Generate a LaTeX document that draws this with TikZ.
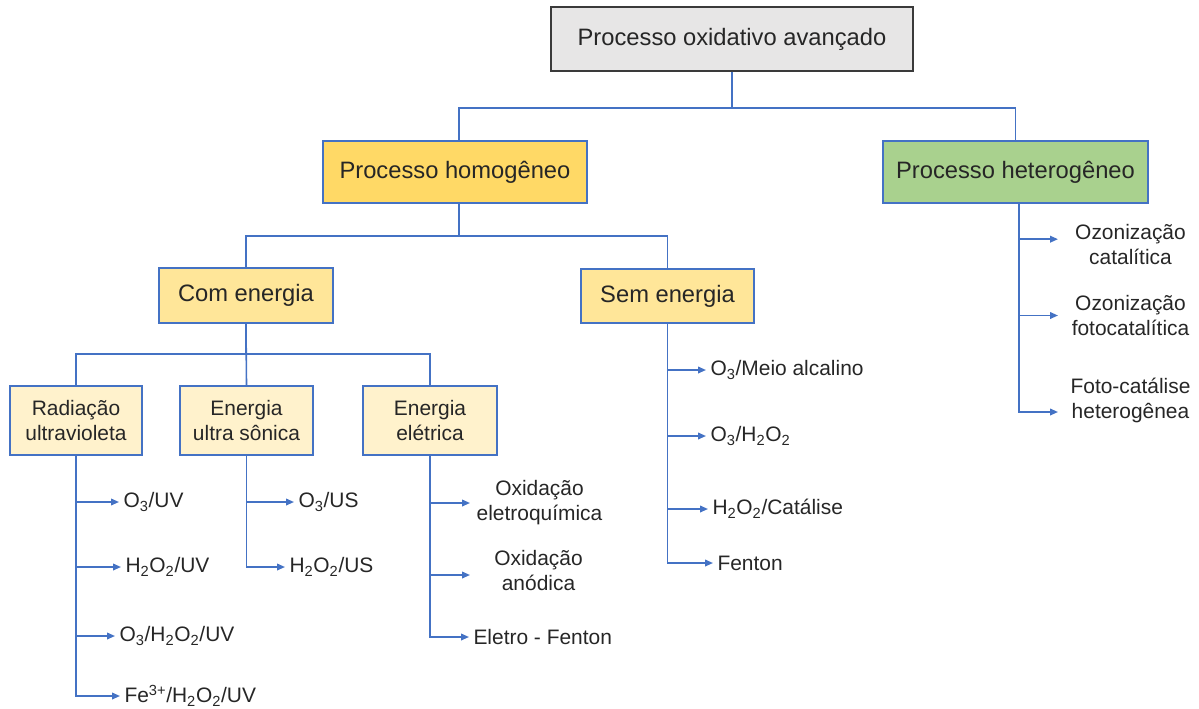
\documentclass[tikz,border=0pt]{standalone}
\usepackage{fontspec}
\setmainfont{Liberation Sans}
\usetikzlibrary{arrows.meta}

\definecolor{azul}{HTML}{4472C4}
\definecolor{cinza}{HTML}{E7E6E6}
\definecolor{cinzaesc}{HTML}{3A3A3A}
\definecolor{ouro}{HTML}{FFD966}
\definecolor{verde}{HTML}{A9D18E}
\definecolor{amarelo}{HTML}{FFE699}
\definecolor{creme}{HTML}{FFF2CC}

\tikzset{every picture/.style={line width=0.75pt}}
\tikzset{
	grande/.style={font=\fontsize{17.8}{21}\selectfont},
	pequena/.style={font=\fontsize{15.7}{18.75}\selectfont},
	caixa/.style={draw=azul, line width=1.1pt, text=black!85, align=center, inner sep=0pt},
	folha/.style={anchor=west, inner xsep=3pt, inner ysep=0pt, pequena, text=black!85},
	folhac/.style={folha, align=center, inner xsep=0pt},
	liga/.style={draw=azul, line width=1.2pt},
	seta/.style={liga, -{Triangle[length=6pt,width=5pt]}}
}

\begin{document}
\begin{tikzpicture}[x=0.75pt,y=0.75pt,yscale=-1,xscale=1]
		\useasboundingbox (0,0) rectangle (1199,708);
		
		% Caixas
		\node[caixa, draw=cinzaesc, fill=cinza, grande, minimum width=271.5pt, minimum height=48pt] (poa) at (732,39) {Processo oxidativo avançado};
		\node[caixa, fill=ouro, grande, minimum width=198pt, minimum height=46.5pt] (homog) at (455,172) {Processo homogêneo};
		\node[caixa, fill=verde, grande, minimum width=198.75pt, minimum height=46.5pt] (heter) at (1015.5,172) {Processo heterogêneo};
		\node[caixa, fill=amarelo, grande, minimum width=130.5pt, minimum height=41.25pt] (comE) at (246,295.5) {Com energia};
		\node[caixa, fill=amarelo, grande, minimum width=129.75pt, minimum height=40.5pt] (semE) at (667.5,296) {Sem energia};
		\node[caixa, fill=creme, pequena, minimum width=99pt, minimum height=51.75pt] (radUV) at (76,420.5) {Radiação\\ultravioleta};
		\node[caixa, fill=creme, pequena, minimum width=99.75pt, minimum height=51.75pt] (ultraS) at (246.5,420.5) {Energia\\ultra sônica};
		\node[caixa, fill=creme, pequena, minimum width=100.5pt, minimum height=51.75pt] (eletr) at (430,420.5) {Energia\\elétrica};
		
		% Ligacoes entre caixas
		\draw[liga] (poa.south) -- ++(0,36) -| ([xshift=3pt]homog.north);
		\draw[liga] (poa.south) -- ++(0,36) -| (heter.north);
		\draw[liga] ([xshift=3pt]homog.south) -- ++(0,32) -| (comE.north);
		\draw[liga] ([xshift=3pt]homog.south) -- ++(0,32) -| (semE.north);
		\draw[liga] (comE.south) -- ++(0,30) -| (radUV.north);
		\draw[liga] (comE.south) -- (ultraS.north);
		\draw[liga] (comE.south) -- ++(0,30) -| (eletr.north);
		
		% Radiacao ultravioleta
		\node[folha] (o3uv) at (119,502) {O\textsubscript{3}/UV};
		\node[folha] (h2o2uv) at (121,567) {H\textsubscript{2}O\textsubscript{2}/UV};
		\node[folha] (o3h2o2uv) at (115,636) {O\textsubscript{3}/H\textsubscript{2}O\textsubscript{2}/UV};
		\node[folha] (feuv) at (120,696) {Fe\textsuperscript{3+}/H\textsubscript{2}O\textsubscript{2}/UV};
		\draw[seta] (radUV.south) |- (o3uv.west);
		\draw[seta] (radUV.south) |- (h2o2uv.west);
		\draw[seta] (radUV.south) |- (o3h2o2uv.west);
		\draw[seta] (radUV.south) |- (feuv.west);
		
		% Energia ultra sonica
		\node[folha] (o3us) at (294,502) {O\textsubscript{3}/US};
		\node[folha] (h2o2us) at (285,567) {H\textsubscript{2}O\textsubscript{2}/US};
		\draw[seta] (ultraS.south) |- (o3us.west);
		\draw[seta] (ultraS.south) |- (h2o2us.west);
		
		% Energia eletrica
		\node[folhac, minimum width=103.5pt] (oxeq) at (470,503) {Oxidação\\eletroquímica};
		\node[folhac, minimum width=102pt] (oxan) at (470,571) {Oxidação\\anódica};
		\node[folha] (efent) at (469,637) {Eletro - Fenton};
		\draw[seta] (eletr.south) |- (oxeq.west);
		\draw[seta] (eletr.south) |- ([yshift=3pt]oxan.west);
		\draw[seta] (eletr.south) |- (efent.west);
		
		% Sem energia
		\node[folha] (o3alc) at (706,370) {O\textsubscript{3}/Meio alcalino};
		\node[folha] (o3h2o2) at (706,436) {O\textsubscript{3}/H\textsubscript{2}O\textsubscript{2}};
		\node[folha] (h2o2cat) at (708,509) {H\textsubscript{2}O\textsubscript{2}/Catálise};
		\node[folha] (fenton) at (713,563) {Fenton};
		\draw[seta] (semE.south) |- (o3alc.west);
		\draw[seta] (semE.south) |- (o3h2o2.west);
		\draw[seta] (semE.south) |- (h2o2cat.west);
		\draw[seta] (semE.south) |- (fenton.west);
		
		% Processo heterogeneo
		\node[folhac, minimum width=108pt] (ozcat) at (1058,244.5) {Ozonização\\catalítica};
		\node[folhac, minimum width=108pt] (ozfoto) at (1058,315.5) {Ozonização\\fotocatalítica};
		\node[folhac, minimum width=108pt] (fotohet) at (1058,400) {Foto-catálise\\heterogênea};
		\draw[seta] ([xshift=2.6pt]heter.south) |- ([yshift=-4pt]ozcat.west);
		\draw[seta] ([xshift=2.6pt]heter.south) |- (ozfoto.west);
		\draw[seta] ([xshift=2.6pt]heter.south) |- ([yshift=9pt]fotohet.west);
		
\end{tikzpicture}
\end{document}
